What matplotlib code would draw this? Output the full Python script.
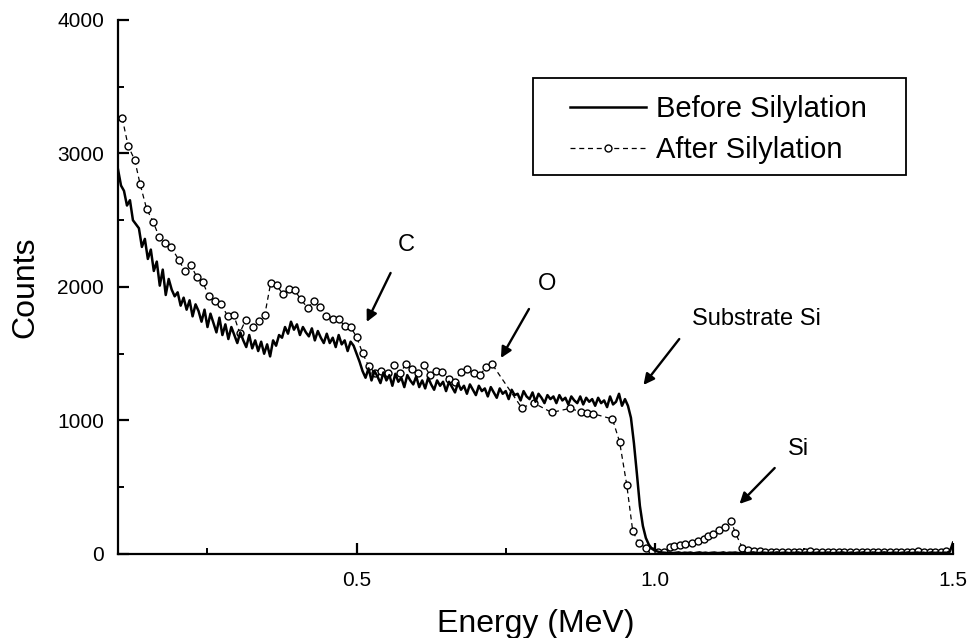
import numpy as np
import matplotlib.pyplot as plt
from matplotlib.patches import Rectangle

plt.rcParams['font.family'] = ['Liberation Sans', 'DejaVu Sans']

# ===== Before silylation: spectrum, one channel every 0.005 MeV from 0.1 to 1.5 =====
e_start = 0.100
e_step = 0.005
before_counts = [
    2880, 2760, 2720, 2610, 2650, 2500, 2470, 2440, 2300, 2360,
    2210, 2280, 2120, 2190, 2010, 2130, 1940, 2060, 1980, 1930,
    1960, 1860, 1920, 1830, 1900, 1780, 1870, 1820, 1740, 1830,
    1700, 1800, 1730, 1660, 1770, 1640, 1720, 1610, 1700, 1640,
    1580, 1660, 1600, 1550, 1640, 1540, 1600, 1520, 1590, 1500,
    1570, 1480, 1600, 1560, 1640, 1620, 1700, 1650, 1740, 1680,
    1720, 1640, 1700, 1660, 1630, 1690, 1600, 1670, 1620, 1580,
    1650, 1580, 1620, 1550, 1640, 1570, 1600, 1520, 1590, 1560,
    1500, 1440, 1370, 1320, 1390, 1300, 1370, 1330, 1280, 1360,
    1300, 1340, 1260, 1350, 1290, 1320, 1250, 1340, 1300, 1270,
    1330, 1250, 1300, 1240, 1320, 1270, 1230, 1300, 1260, 1290,
    1220, 1290, 1250, 1210, 1280, 1230, 1260, 1200, 1270, 1230,
    1190, 1260, 1220, 1240, 1180, 1250, 1210, 1170, 1240, 1200,
    1220, 1160, 1230, 1190, 1200, 1150, 1220, 1180, 1160, 1210,
    1140, 1200, 1170, 1130, 1190, 1160, 1180, 1130, 1190, 1150,
    1170, 1120, 1180, 1150, 1130, 1180, 1120, 1170, 1140, 1160,
    1110, 1170, 1130, 1150, 1100, 1180, 1120, 1140, 1200, 1110,
    1160, 1110, 1020, 830, 600, 360, 210, 120, 70, 40,
    25, 18, 12, 10, 8, 11, 7, 9, 12, 6,
    10, 8, 11, 5, 9, 12, 7, 10, 6, 9,
    11, 7, 8, 12, 6, 10, 9, 11, 7, 8,
    10, 6, 9, 12, 8, 7, 11, 9, 6, 10,
    8, 12, 7, 9, 11, 6, 10, 8, 12, 7,
    9, 11, 6, 10, 8, 12, 7, 9, 11, 8,
    6, 10, 9, 12, 7, 8, 11, 6, 10, 9,
    12, 7, 8, 11, 9, 6, 10, 12, 8, 7,
    11, 9, 6, 10, 8, 12, 7, 9, 11, 8,
    10, 6, 9, 12, 8, 11, 7, 10, 9, 22,
    85,
]
before_energy = e_start + e_step * np.arange(len(before_counts))

# ===== After silylation: open circles (those hidden under the line left out) =====
after_energy = [
    0.107, 0.117, 0.128, 0.137, 0.148, 0.159, 0.169, 0.179, 0.189, 0.202,
    0.212, 0.222, 0.232, 0.242, 0.252, 0.262, 0.272, 0.284, 0.294, 0.304,
    0.314, 0.326, 0.336, 0.346, 0.356, 0.366, 0.376, 0.386, 0.396, 0.406,
    0.418, 0.428, 0.438, 0.449, 0.460, 0.470, 0.480, 0.490, 0.500, 0.510,
    0.520, 0.531, 0.541, 0.553, 0.563, 0.573, 0.583, 0.593, 0.603, 0.613,
    0.623, 0.633, 0.643, 0.655, 0.665, 0.675, 0.685, 0.697, 0.707, 0.717,
    0.727, 0.777, 0.797, 0.827, 0.857, 0.877, 0.887, 0.897,
    0.929, 0.941, 0.953, 0.963, 0.973, 0.985, 0.995, 1.006, 1.015, 1.025,
    1.033, 1.043, 1.051, 1.062, 1.072, 1.082, 1.090, 1.098, 1.108, 1.117,
    1.128, 1.135, 1.147, 1.157, 1.166, 1.176, 1.185, 1.195, 1.204, 1.214,
    1.223, 1.233, 1.242, 1.252, 1.261, 1.271, 1.280, 1.290, 1.299, 1.309,
    1.318, 1.328, 1.337, 1.347, 1.356, 1.366, 1.375, 1.385, 1.394, 1.404,
    1.413, 1.423, 1.432, 1.442, 1.451, 1.461, 1.470, 1.480, 1.489,
]
after_counts = [
    3266, 3056, 2951, 2771, 2584, 2487, 2374, 2329, 2299, 2202,
    2120, 2165, 2075, 2037, 1932, 1895, 1873, 1783, 1790, 1655,
    1753, 1700, 1745, 1790, 2030, 2015, 1947, 1985, 1977, 1910,
    1843, 1895, 1850, 1783, 1760, 1760, 1708, 1700, 1625, 1505,
    1408, 1356, 1370, 1356, 1415, 1356, 1423, 1385, 1356, 1415,
    1340, 1370, 1363, 1311, 1288, 1363, 1385, 1356, 1340, 1400,
    1423, 1094, 1131, 1060, 1090, 1065, 1056, 1050,
    1011, 839, 517, 172, 82, 45, 22, 15, 15, 52,
    60, 67, 75, 82, 97, 112, 135, 150, 180, 202,
    247, 157, 45, 30, 24, 20, 18, 16, 14, 18,
    15, 12, 15, 13, 20, 12, 14, 16, 13, 12,
    15, 14, 16, 13, 18, 15, 14, 16, 18, 15,
    17, 14, 16, 19, 17, 15, 18, 16, 20,
]

# ===== Peak labels: text position, arrow start, arrow tip =====
peak_labels = ['C', 'O', 'Substrate Si', 'Si']
label_xy = [(0.584, 2314), (0.819, 2022), (1.171, 1760), (1.241, 786)]
arrow_from = [(0.557, 2105), (0.789, 1835), (1.041, 1610), (1.201, 644)]
arrow_to = [(0.517, 1738), (0.742, 1468), (0.981, 1266), (1.142, 375)]

fig = plt.figure(figsize=(9.69, 6.38), dpi=100)
ax = fig.add_axes([0.1218, 0.1317, 0.8617, 0.837])

ax.plot(after_energy, after_counts, color='black', lw=0.9, dashes=(4, 3),
        marker='o', markersize=5, markerfacecolor='white',
        markeredgewidth=1.0, label='After Silylation', zorder=2)
ax.plot(before_energy, before_counts, color='black', lw=1.8,
        label='Before Silylation', zorder=3)

for txt, xy, a0, a1 in zip(peak_labels, label_xy, arrow_from, arrow_to):
    ax.text(xy[0], xy[1], txt, fontsize=17, ha='center', va='center')
    ax.annotate('', xy=a1, xytext=a0,
                arrowprops=dict(arrowstyle='-|>', color='black', lw=1.7,
                                mutation_scale=16, shrinkA=0, shrinkB=0))

ax.set_xlim(0.1, 1.5)
ax.set_ylim(0, 4000)
ax.set_xticks([0.5, 1.0, 1.5])
ax.set_xticklabels(['0.5', '1.0', '1.5'])
ax.set_xticks([0.25, 0.75, 1.25], minor=True)
ax.set_yticks([0, 1000, 2000, 3000, 4000])
ax.set_yticks([500, 1500, 2500, 3500], minor=True)

ax.spines['top'].set_visible(False)
ax.spines['right'].set_visible(False)
ax.spines['left'].set_linewidth(1.6)
ax.spines['bottom'].set_linewidth(1.6)
ax.tick_params(axis='both', which='major', direction='in', length=8,
               width=1.6, labelsize=15)
ax.tick_params(axis='both', which='minor', direction='in', length=4,
               width=1.4)
ax.tick_params(axis='x', which='major', pad=12)
ax.tick_params(axis='y', which='major', pad=10)

ax.set_xlabel('Energy (MeV)', fontsize=23, labelpad=14)
ax.set_ylabel('Counts', fontsize=23, labelpad=12)

# legend box drawn separately: its side margins are wider than top/bottom
ax.add_patch(Rectangle((0.497, 0.710), 0.447, 0.181, transform=ax.transAxes,
                       facecolor='white', edgecolor='black', lw=1.3, zorder=4))
handles, labels = ax.get_legend_handles_labels()
leg = ax.legend(handles[::-1], labels[::-1], loc='upper left',
                bbox_to_anchor=(0.541, 0.860), fontsize=21, frameon=False,
                handlelength=2.6, handletextpad=0.35, borderpad=0,
                labelspacing=0.45, borderaxespad=0)
leg.set_zorder(5)

fig.savefig('out.png', dpi=100)
